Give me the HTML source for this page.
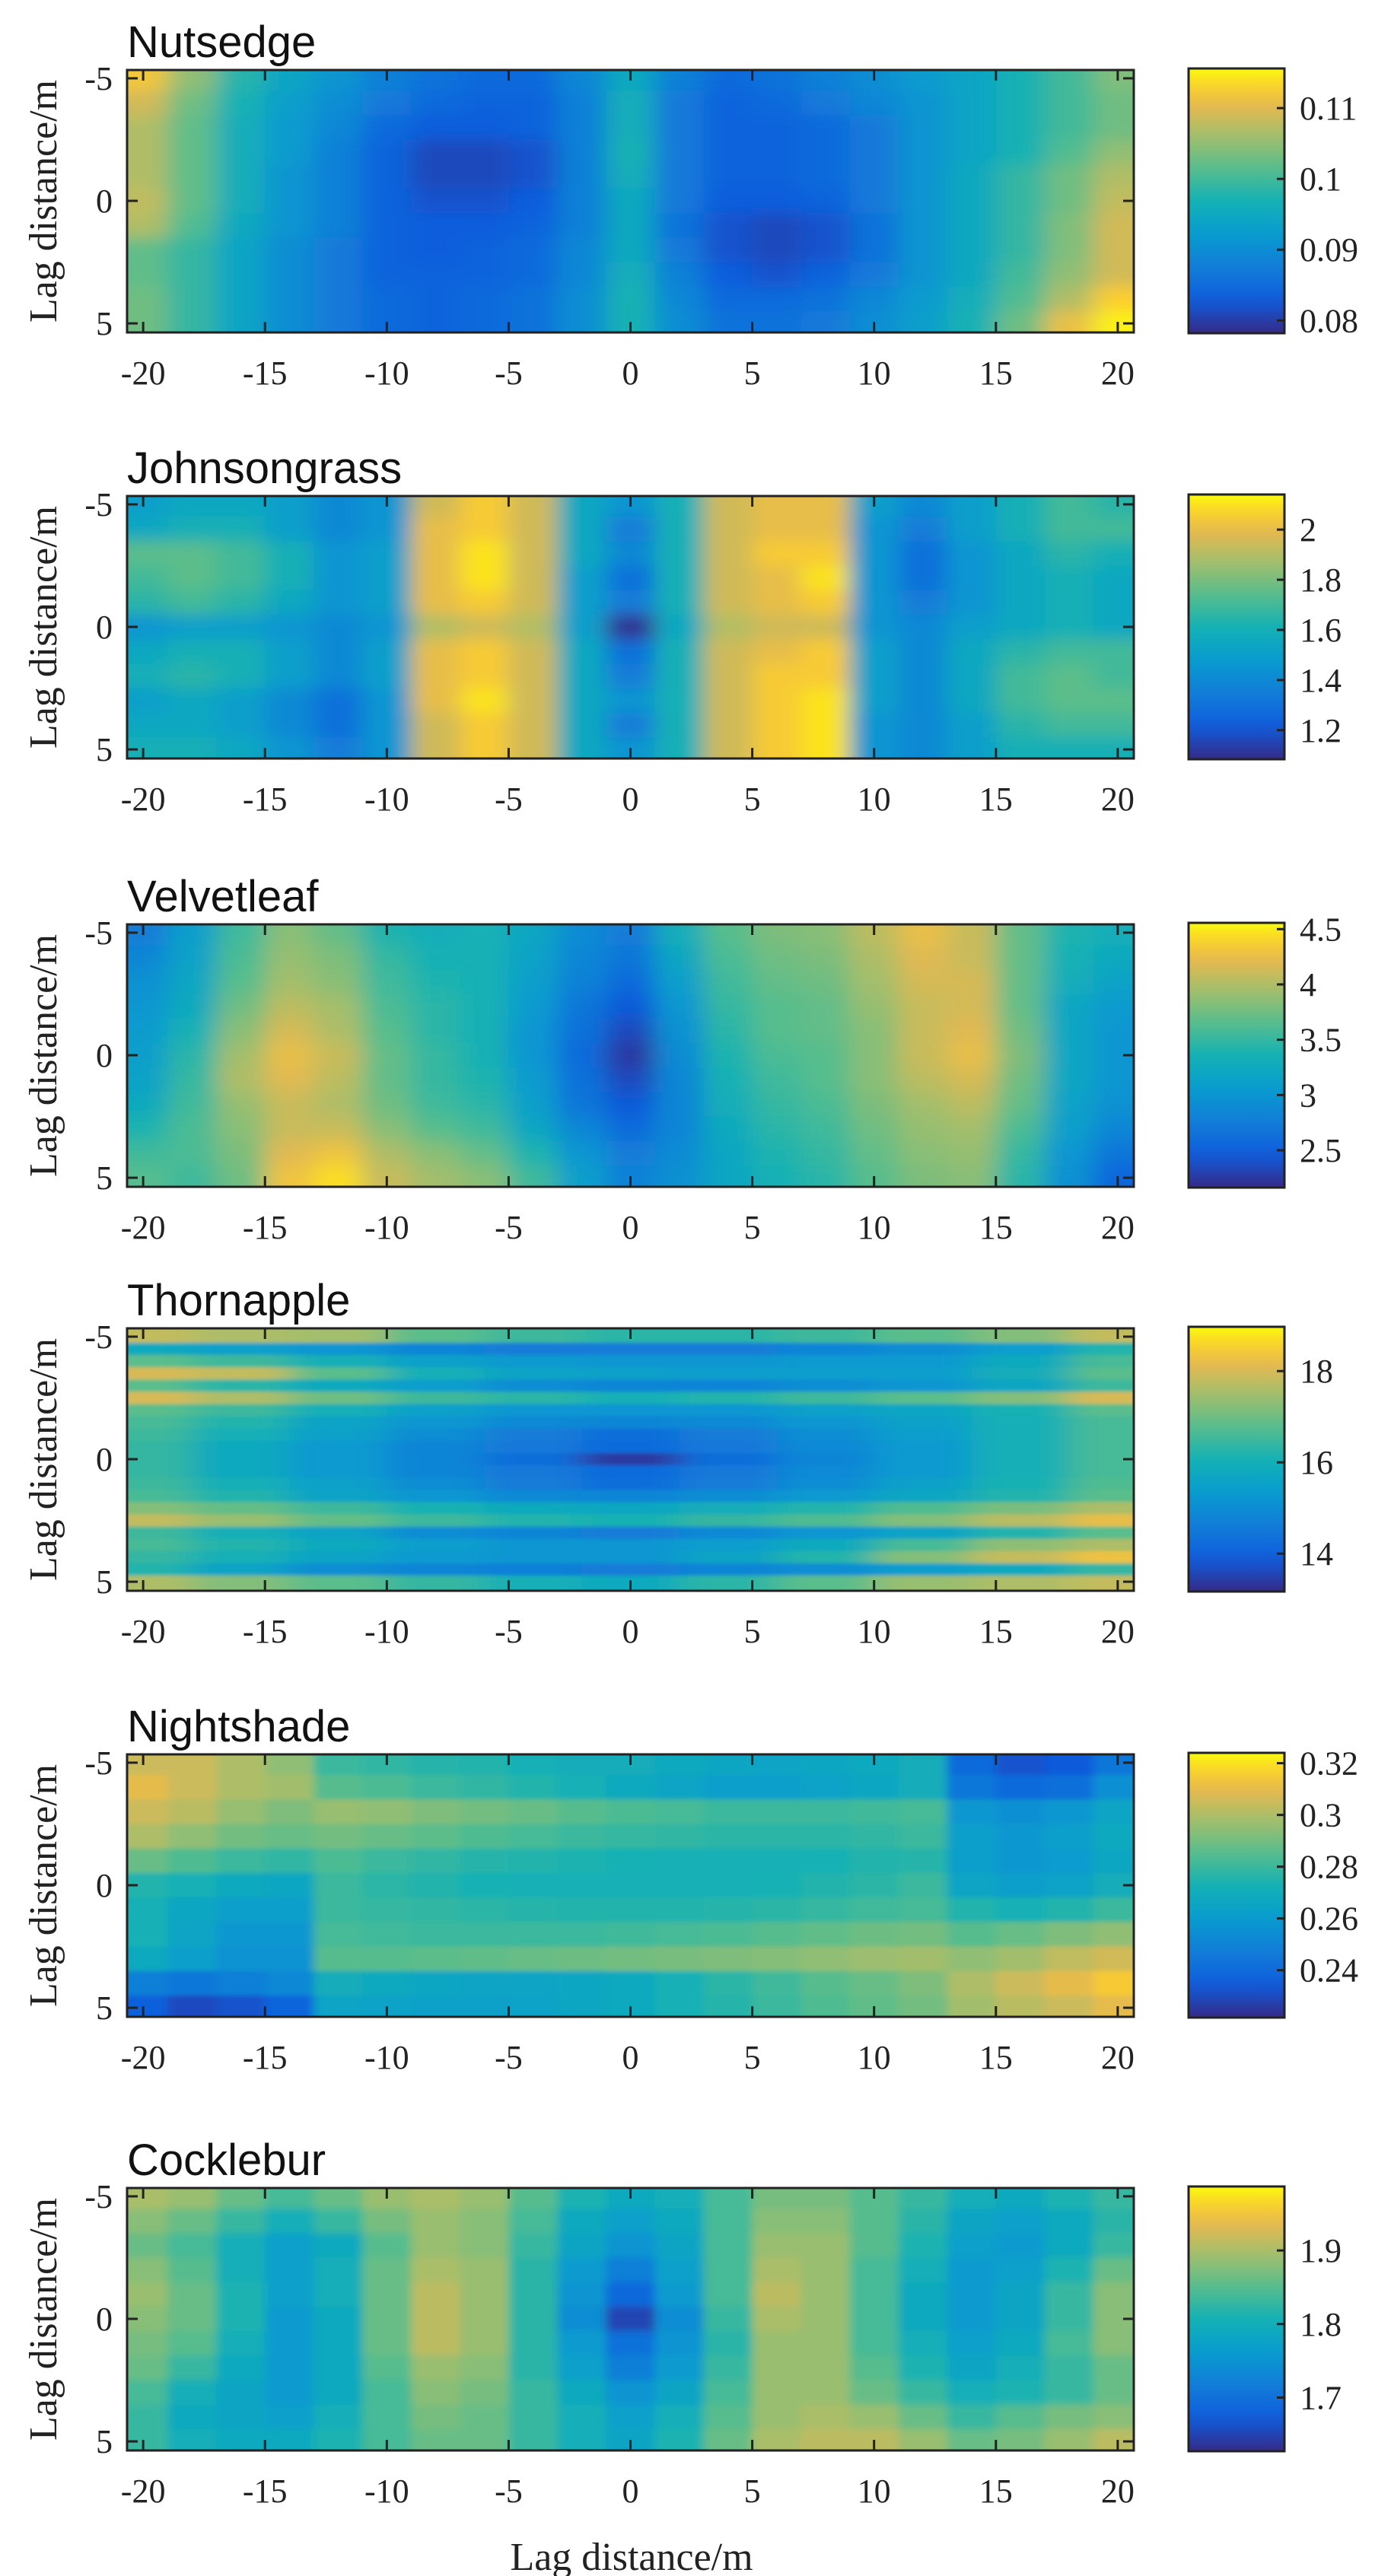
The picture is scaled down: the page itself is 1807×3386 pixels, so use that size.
<!DOCTYPE html>
<html><head><meta charset="utf-8"><title>Lag distance heatmaps</title>
<style>
html,body{margin:0;padding:0;background:#fff;}
svg{display:block;}
.t{font-family:"Liberation Sans",sans-serif;font-size:58px;fill:#111;}
.s{font-family:"Liberation Serif",serif;fill:#222;}
</style></head>
<body>
<svg id="fig" width="1807" height="3386" viewBox="0 0 1807 3386" xmlns="http://www.w3.org/2000/svg">
<defs id="defs"></defs>
</svg>
<script>
// ---------- data ----------
const lagX = [-20,-18,-16,-14,-12,-10,-8,-6,-4,-2,0,2,4,6,8,10,12,14,16,18,20];
const lagY = [-5,-4,-3,-2,-1,0,1,2,3,4,5];
const thornX = [-20,-16,-12,-8,-4,0,4,8,12,16,20];
const thornY = [-5,-4.5,-4,-3.5,-3,-2.5,-2,-1.5,-1,-0.5,0,0.5,1,1.5,2,2.5,3,3.5,4,4.5,5];

const titles = ["Nutsedge","Johnsongrass","Velvetleaf","Thornapple","Nightshade","Cocklebur"];
const cbMin = [0.0782,1.084,2.163,13.17,0.2217,1.627];
const cbMax = [0.1156,2.14,4.557,18.97,0.324,1.987];
const cbTicks = [[0.08,0.09,0.1,0.11],[1.2,1.4,1.6,1.8,2],[2.5,3,3.5,4,4.5],[14,16,18],[0.24,0.26,0.28,0.3,0.32],[1.7,1.8,1.9]];
const cbTickLabels = [["0.08","0.09","0.1","0.11"],["1.2","1.4","1.6","1.8","2"],["2.5","3","3.5","4","4.5"],["14","16","18"],["0.24","0.26","0.28","0.3","0.32"],["1.7","1.8","1.9"]];
const xTicks = [-20,-15,-10,-5,0,5,10,15,20];
const xTickLabels = ["-20","-15","-10","-5","0","5","10","15","20"];
const yTicks = [-5,0,5];
const yTickLabels = ["-5","0","5"];

const nutsedgeZ = [
[.112,.105,.098,.094,.091,.088,.086,.085,.085,.089,.095,.088,.085,.086,.088,.090,.092,.094,.097,.100,.104],
[.109,.103,.097,.093,.090,.087,.085,.084,.084,.088,.096,.087,.084,.085,.087,.089,.091,.094,.097,.100,.103],
[.107,.102,.096,.092,.089,.085,.083,.083,.084,.088,.096,.087,.084,.084,.085,.087,.091,.094,.097,.100,.103],
[.107,.102,.096,.092,.088,.084,.081,.081,.082,.088,.097,.087,.084,.084,.085,.087,.091,.094,.097,.101,.105],
[.107,.102,.096,.091,.088,.084,.081,.081,.082,.088,.096,.087,.084,.084,.085,.087,.091,.095,.099,.103,.107],
[.108,.102,.096,.091,.088,.084,.082,.082,.083,.088,.095,.087,.083,.083,.084,.087,.091,.095,.099,.103,.108],
[.107,.101,.095,.091,.088,.084,.083,.083,.084,.088,.095,.086,.082,.081,.082,.086,.091,.095,.099,.104,.109],
[.102,.099,.094,.090,.087,.084,.083,.084,.085,.089,.095,.087,.082,.081,.082,.086,.091,.095,.099,.104,.109],
[.102,.099,.094,.090,.087,.084,.084,.084,.085,.089,.096,.088,.083,.082,.084,.087,.091,.095,.100,.105,.109],
[.103,.099,.094,.090,.087,.085,.084,.085,.086,.090,.097,.089,.085,.085,.086,.089,.092,.096,.101,.107,.113],
[.103,.099,.094,.090,.087,.085,.084,.085,.086,.090,.097,.090,.086,.086,.087,.090,.093,.097,.103,.111,.115]];

const johnsonZ = [
[1.50,1.55,1.55,1.50,1.40,1.45,1.95,2.05,1.95,1.55,1.45,1.60,1.95,2.00,2.00,1.50,1.40,1.50,1.60,1.70,1.65],
[1.55,1.60,1.60,1.50,1.40,1.45,2.00,2.05,1.95,1.55,1.35,1.60,1.95,2.00,2.00,1.45,1.35,1.50,1.60,1.70,1.70],
[1.75,1.75,1.70,1.60,1.45,1.50,2.00,2.10,1.95,1.55,1.40,1.60,1.95,2.05,2.05,1.45,1.30,1.45,1.55,1.65,1.60],
[1.70,1.75,1.70,1.60,1.45,1.50,2.00,2.10,1.95,1.50,1.30,1.60,1.95,2.00,2.10,1.45,1.30,1.45,1.55,1.60,1.55],
[1.65,1.70,1.65,1.55,1.45,1.50,2.00,2.05,1.95,1.50,1.35,1.60,1.95,2.00,2.05,1.45,1.35,1.45,1.55,1.60,1.55],
[1.45,1.50,1.50,1.45,1.40,1.45,1.90,1.95,1.90,1.50,1.10,1.55,1.90,1.95,1.95,1.45,1.40,1.50,1.55,1.60,1.55],
[1.55,1.60,1.60,1.50,1.40,1.50,2.00,2.05,1.95,1.55,1.30,1.60,1.95,2.00,2.05,1.50,1.40,1.55,1.65,1.70,1.70],
[1.60,1.65,1.60,1.50,1.40,1.50,2.00,2.05,1.95,1.55,1.35,1.60,1.95,2.05,2.05,1.50,1.40,1.55,1.70,1.75,1.70],
[1.50,1.55,1.50,1.40,1.30,1.45,2.00,2.10,1.95,1.55,1.45,1.60,1.95,2.05,2.10,1.50,1.40,1.55,1.70,1.75,1.75],
[1.55,1.55,1.50,1.40,1.30,1.45,1.95,2.05,1.95,1.55,1.35,1.60,1.95,2.05,2.10,1.45,1.40,1.50,1.65,1.70,1.70],
[1.60,1.60,1.55,1.45,1.35,1.45,1.95,2.05,1.95,1.55,1.45,1.60,1.95,2.05,2.10,1.45,1.40,1.50,1.60,1.60,1.60]];

const velvetZ = [
[2.75,3.10,3.55,3.85,3.70,3.40,3.30,3.35,3.20,2.90,2.75,3.30,3.65,3.80,3.85,4.05,4.25,4.10,3.70,3.40,3.30],
[2.85,3.15,3.60,3.90,3.80,3.50,3.35,3.35,3.15,2.85,2.70,3.20,3.60,3.75,3.80,4.00,4.20,4.10,3.70,3.35,3.25],
[2.95,3.20,3.65,3.95,3.85,3.55,3.40,3.35,3.10,2.80,2.60,3.10,3.55,3.70,3.75,3.95,4.15,4.15,3.70,3.30,3.15],
[3.00,3.25,3.75,4.05,3.95,3.60,3.45,3.35,3.05,2.70,2.45,3.00,3.50,3.65,3.70,3.90,4.10,4.15,3.70,3.20,3.05],
[3.05,3.35,3.85,4.15,4.00,3.65,3.45,3.35,3.00,2.65,2.35,2.95,3.45,3.65,3.70,3.85,4.10,4.20,3.75,3.20,3.00],
[3.10,3.45,3.95,4.25,4.10,3.70,3.50,3.35,3.00,2.60,2.25,2.90,3.40,3.60,3.65,3.85,4.10,4.25,3.80,3.20,3.00],
[3.15,3.50,4.00,4.20,4.05,3.70,3.50,3.40,3.05,2.65,2.35,2.85,3.35,3.55,3.65,3.85,4.05,4.15,3.75,3.20,3.00],
[3.25,3.55,3.90,4.10,4.00,3.75,3.55,3.45,3.10,2.70,2.45,2.85,3.30,3.50,3.60,3.80,3.95,4.05,3.70,3.15,2.95],
[3.40,3.60,3.85,4.10,4.10,3.85,3.65,3.55,3.20,2.85,2.60,2.85,3.25,3.45,3.55,3.75,3.90,3.95,3.60,3.10,2.85],
[3.55,3.60,3.80,4.20,4.30,4.00,3.85,3.70,3.40,3.00,2.75,2.90,3.20,3.40,3.50,3.70,3.85,3.90,3.50,3.00,2.70],
[3.65,3.55,3.75,4.30,4.45,4.10,3.95,3.85,3.55,3.10,2.80,2.95,3.20,3.35,3.45,3.65,3.80,3.85,3.45,2.95,2.55]];

const thornZ = [
[17.8,17.6,17.5,16.8,16.5,16.3,16.3,16.5,16.8,17.2,17.8],
[15.8,15.5,15.2,14.8,14.6,14.6,14.6,14.8,15.0,15.4,16.2],
[16.8,16.5,16.0,15.5,15.3,15.2,15.2,15.3,15.3,15.8,16.6],
[18.0,17.8,16.8,16.0,15.6,15.5,15.4,15.4,15.4,15.9,16.8],
[16.8,16.3,15.8,15.4,15.0,14.8,14.8,15.0,15.2,15.7,16.5],
[18.0,17.6,17.0,16.5,16.3,16.0,16.2,16.5,16.8,17.2,18.0],
[16.8,16.5,16.0,15.5,15.2,15.2,15.2,15.5,15.7,16.1,16.8],
[16.6,16.2,15.6,15.2,14.9,14.8,14.9,15.2,15.5,16.0,16.6],
[16.5,16.0,15.5,15.0,14.6,14.3,14.6,15.0,15.4,16.0,16.6],
[16.4,15.8,15.3,14.8,14.5,14.2,14.5,14.9,15.3,16.0,16.6],
[16.4,15.8,15.3,14.8,14.3,13.4,14.3,14.8,15.3,16.0,16.6],
[16.4,15.8,15.3,14.8,14.5,14.2,14.5,14.9,15.3,16.0,16.6],
[16.5,16.0,15.5,15.0,14.6,14.3,14.6,15.0,15.5,16.1,16.7],
[16.6,16.2,15.6,15.2,14.9,14.8,15.0,15.3,15.7,16.2,16.8],
[17.2,16.9,16.5,16.1,15.8,15.7,15.9,16.2,16.7,17.1,17.6],
[17.8,17.4,16.9,16.5,16.2,16.1,16.4,16.7,17.2,17.7,18.2],
[16.5,16.0,15.6,15.0,14.8,14.6,14.9,15.2,15.6,16.2,16.8],
[16.6,16.2,15.8,15.4,15.2,15.2,15.4,15.8,16.6,17.3,17.6],
[16.4,16.0,15.6,15.3,15.2,15.2,15.6,16.2,17.2,17.8,18.3],
[16.2,15.6,15.0,14.8,14.7,14.6,14.8,15.0,15.4,15.8,16.4],
[17.6,17.2,16.8,16.4,16.0,15.8,16.3,16.8,17.4,17.6,17.8]];

const nightZ = [
[.305,.305,.300,.295,.280,.278,.276,.275,.272,.270,.270,.268,.266,.265,.266,.268,.270,.240,.232,.234,.245],
[.310,.305,.300,.298,.285,.283,.280,.278,.275,.272,.268,.265,.262,.262,.264,.266,.270,.245,.240,.242,.255],
[.305,.302,.296,.292,.296,.295,.292,.290,.288,.285,.283,.282,.280,.280,.280,.281,.282,.258,.255,.258,.265],
[.300,.295,.290,.288,.290,.288,.286,.284,.282,.280,.279,.278,.277,.277,.277,.278,.280,.262,.258,.262,.268],
[.288,.284,.280,.278,.283,.280,.278,.276,.275,.274,.273,.272,.272,.272,.273,.275,.276,.262,.258,.260,.266],
[.275,.272,.268,.266,.280,.277,.275,.273,.272,.272,.272,.272,.272,.273,.275,.277,.280,.265,.262,.264,.270],
[.272,.266,.262,.262,.280,.279,.278,.277,.276,.275,.275,.275,.276,.277,.279,.281,.282,.275,.272,.275,.280],
[.272,.265,.258,.258,.282,.281,.280,.280,.280,.280,.281,.282,.283,.285,.287,.289,.290,.285,.288,.292,.295],
[.268,.262,.256,.256,.285,.285,.286,.287,.288,.289,.290,.291,.292,.293,.295,.297,.298,.295,.298,.303,.306],
[.248,.245,.248,.252,.270,.268,.266,.265,.265,.266,.268,.272,.277,.281,.285,.288,.292,.300,.305,.310,.315],
[.236,.230,.232,.238,.265,.264,.263,.263,.264,.266,.268,.272,.276,.280,.284,.287,.290,.298,.302,.305,.310]];

const cockleZ = [
[1.90,1.89,1.86,1.84,1.86,1.89,1.90,1.89,1.85,1.81,1.79,1.80,1.84,1.87,1.87,1.85,1.83,1.80,1.79,1.81,1.83],
[1.88,1.86,1.83,1.80,1.83,1.87,1.89,1.88,1.84,1.79,1.77,1.79,1.84,1.88,1.88,1.85,1.82,1.78,1.77,1.79,1.82],
[1.86,1.84,1.80,1.77,1.79,1.85,1.89,1.88,1.83,1.78,1.75,1.78,1.84,1.89,1.89,1.85,1.81,1.77,1.76,1.79,1.83],
[1.88,1.85,1.80,1.77,1.80,1.86,1.90,1.89,1.82,1.76,1.72,1.77,1.84,1.90,1.89,1.84,1.80,1.76,1.77,1.81,1.86],
[1.89,1.86,1.81,1.77,1.80,1.86,1.91,1.89,1.82,1.75,1.69,1.76,1.84,1.91,1.89,1.84,1.79,1.76,1.78,1.83,1.88],
[1.88,1.86,1.81,1.76,1.79,1.86,1.91,1.89,1.82,1.74,1.65,1.74,1.83,1.90,1.89,1.84,1.79,1.76,1.78,1.83,1.88],
[1.87,1.85,1.80,1.76,1.79,1.86,1.91,1.89,1.82,1.76,1.70,1.75,1.82,1.89,1.89,1.84,1.80,1.77,1.79,1.84,1.88],
[1.86,1.83,1.79,1.76,1.79,1.85,1.89,1.88,1.82,1.77,1.72,1.76,1.83,1.89,1.89,1.85,1.81,1.78,1.80,1.83,1.86],
[1.84,1.80,1.78,1.76,1.79,1.84,1.88,1.87,1.83,1.79,1.75,1.78,1.84,1.89,1.89,1.86,1.83,1.80,1.81,1.83,1.86],
[1.83,1.79,1.78,1.77,1.80,1.84,1.87,1.86,1.83,1.80,1.77,1.80,1.85,1.89,1.90,1.89,1.86,1.83,1.85,1.87,1.88],
[1.83,1.80,1.79,1.79,1.81,1.84,1.86,1.86,1.83,1.80,1.78,1.81,1.86,1.90,1.91,1.91,1.89,1.86,1.87,1.89,1.91]];

// ---------- layout ----------
const NS = "http://www.w3.org/2000/svg";
const svg = document.getElementById('fig');
const defs = document.getElementById('defs');
const plotTops = [92,652,1215,1746,2306,2876];
const plotH = 345, plotL = 167, plotR = 1490;
const X0 = -20.66, X1 = 20.66, Y0 = -5.34, Y1 = 5.37;
const cbL = 1562, cbW = 126;
const panelXs = [lagX,lagX,lagX,thornX,lagX,lagX];
const panelYs = [lagY,lagY,lagY,thornY,lagY,lagY];
const panelZ = [nutsedgeZ,johnsonZ,velvetZ,thornZ,nightZ,cockleZ];
const blurs = ["16 10","14 10","16 12","22 2.5","6 3","6 5"];
const slugs = ["nutsedge","johnsongrass","velvetleaf","thornapple","nightshade","cocklebur"];

const parula = [[0,[53,42,135]],[0.125,[15,92,221]],[0.25,[18,125,216]],[0.375,[7,156,207]],[0.5,[21,177,180]],[0.625,[89,189,140]],[0.75,[165,190,107]],[0.85,[225,185,82]],[0.93,[252,206,46]],[1,[249,251,14]]];
function cmap(t){
  t = Math.max(0,Math.min(1,t));
  for(let i=1;i<parula.length;i++){
    if(t<=parula[i][0]){
      const a=parula[i-1], b=parula[i], f=(t-a[0])/(b[0]-a[0]);
      const c=a[1].map((v,k)=>Math.round(v+(b[1][k]-v)*f));
      return 'rgb('+c.join(',')+')';
    }
  }
  return 'rgb(249,251,14)';
}
function mk(tag, attrs, parent){
  const e=document.createElementNS(NS,tag);
  for(const k in attrs) e.setAttribute(k,attrs[k]);
  (parent||svg).appendChild(e);
  return e;
}
function xScale(v){ return plotL + (v-X0)/(X1-X0)*(plotR-plotL); }
function yScaleFor(top){ return v => top + (v-Y0)/(Y1-Y0)*plotH; }

const grad = mk('linearGradient',{id:'parulaGrad',x1:'0',y1:'1',x2:'0',y2:'0'},defs);
for(let i=0;i<=20;i++){ mk('stop',{offset:(i/20).toFixed(2),'stop-color':cmap(i/20)},grad); }

for(let p=0;p<6;p++){
  const top = plotTops[p], bot = top+plotH;
  const ys = yScaleFor(top);
  const xs = panelXs[p], yv = panelYs[p], Z = panelZ[p];
  const lo = cbMin[p], hi = cbMax[p];
  const panel = mk('g',{});
  
  

  const cp = mk('clipPath',{id:'clip'+p},defs);
  mk('rect',{x:plotL,y:top,width:plotR-plotL,height:plotH},cp);
  const flt = mk('filter',{id:'blur'+p,filterUnits:'userSpaceOnUse',x:plotL-100,y:top-100,width:plotR-plotL+200,height:plotH+200},defs);
  mk('feGaussianBlur',{stdDeviation:blurs[p]},flt);

  const clipG = mk('g',{'clip-path':'url(#clip'+p+')'},panel);
  const heat = mk('g',{filter:'url(#blur'+p+')'},clipG);
  
  
  for(let r=0;r<yv.length;r++){
    const ya = r===0 ? yv[0]-(yv[1]-yv[0])/2-3 : (yv[r-1]+yv[r])/2;
    const yb = r===yv.length-1 ? yv[r]+(yv[r]-yv[r-1])/2+3 : (yv[r]+yv[r+1])/2;
    for(let c=0;c<xs.length;c++){
      const xa = c===0 ? xs[0]-(xs[1]-xs[0])/2-5 : (xs[c-1]+xs[c])/2;
      const xb = c===xs.length-1 ? xs[c]+(xs[c]-xs[c-1])/2+5 : (xs[c]+xs[c+1])/2;
      const px0 = xScale(xa), px1 = xScale(xb), py0 = ys(ya), py1 = ys(yb);
      const cell = mk('rect',{x:px0.toFixed(1),y:py0.toFixed(1),width:(px1-px0+0.6).toFixed(1),height:(py1-py0+0.6).toFixed(1),fill:cmap((Z[r][c]-lo)/(hi-lo))},heat);
      
      
    }
  }
  const frame = mk('rect',{x:plotL,y:top,width:plotR-plotL,height:plotH,fill:'none',stroke:'#222','stroke-width':3},panel);
  
  
  for(let i=0;i<xTicks.length;i++){
    const x = xScale(xTicks[i]);
    mk('line',{x1:x,y1:top,x2:x,y2:top+14,stroke:'#222','stroke-width':3},panel);
    mk('line',{x1:x,y1:bot,x2:x,y2:bot-14,stroke:'#222','stroke-width':3},panel);
    const tl = mk('text',{x:x,y:bot+68,'text-anchor':'middle',class:'s','font-size':44},panel);
    tl.textContent = xTickLabels[i];
    
    
  }
  for(let i=0;i<yTicks.length;i++){
    const y = ys(yTicks[i]);
    mk('line',{x1:plotL,y1:y,x2:plotL+14,y2:y,stroke:'#222','stroke-width':3},panel);
    mk('line',{x1:plotR,y1:y,x2:plotR-14,y2:y,stroke:'#222','stroke-width':3},panel);
    const tl = mk('text',{x:148,y:y+15,'text-anchor':'end',class:'s','font-size':44},panel);
    tl.textContent = yTickLabels[i];
    
    
  }
  const cy = top+plotH/2;
  const yl = mk('text',{x:0,y:0,'text-anchor':'middle',class:'s','font-size':52,transform:'translate(74,'+cy+') rotate(-90)'},panel);
  yl.textContent = 'Lag distance/m';
  
  
  const tt = mk('text',{x:plotL,y:top-17,class:'t'},panel);
  tt.textContent = titles[p];
  
  
  const cbTop = top-2, cbBot = bot+1;
  const cb = mk('rect',{x:cbL,y:cbTop,width:cbW,height:cbBot-cbTop,fill:'url(#parulaGrad)',stroke:'#222','stroke-width':3},panel);
  
  
  for(let i=0;i<cbTicks[p].length;i++){
    const y = cbBot - (cbTicks[p][i]-lo)/(hi-lo)*(cbBot-cbTop);
    mk('line',{x1:cbL+cbW,y1:y,x2:cbL+cbW-10,y2:y,stroke:'#222','stroke-width':3},panel);
    const tl = mk('text',{x:1708,y:y+15,class:'s','font-size':44},panel);
    tl.textContent = cbTickLabels[p][i];
    
    
  }
}
const xl = mk('text',{x:830,y:3378,'text-anchor':'middle',class:'s','font-size':52});
xl.textContent = 'Lag distance/m';


</script>
</body></html>
